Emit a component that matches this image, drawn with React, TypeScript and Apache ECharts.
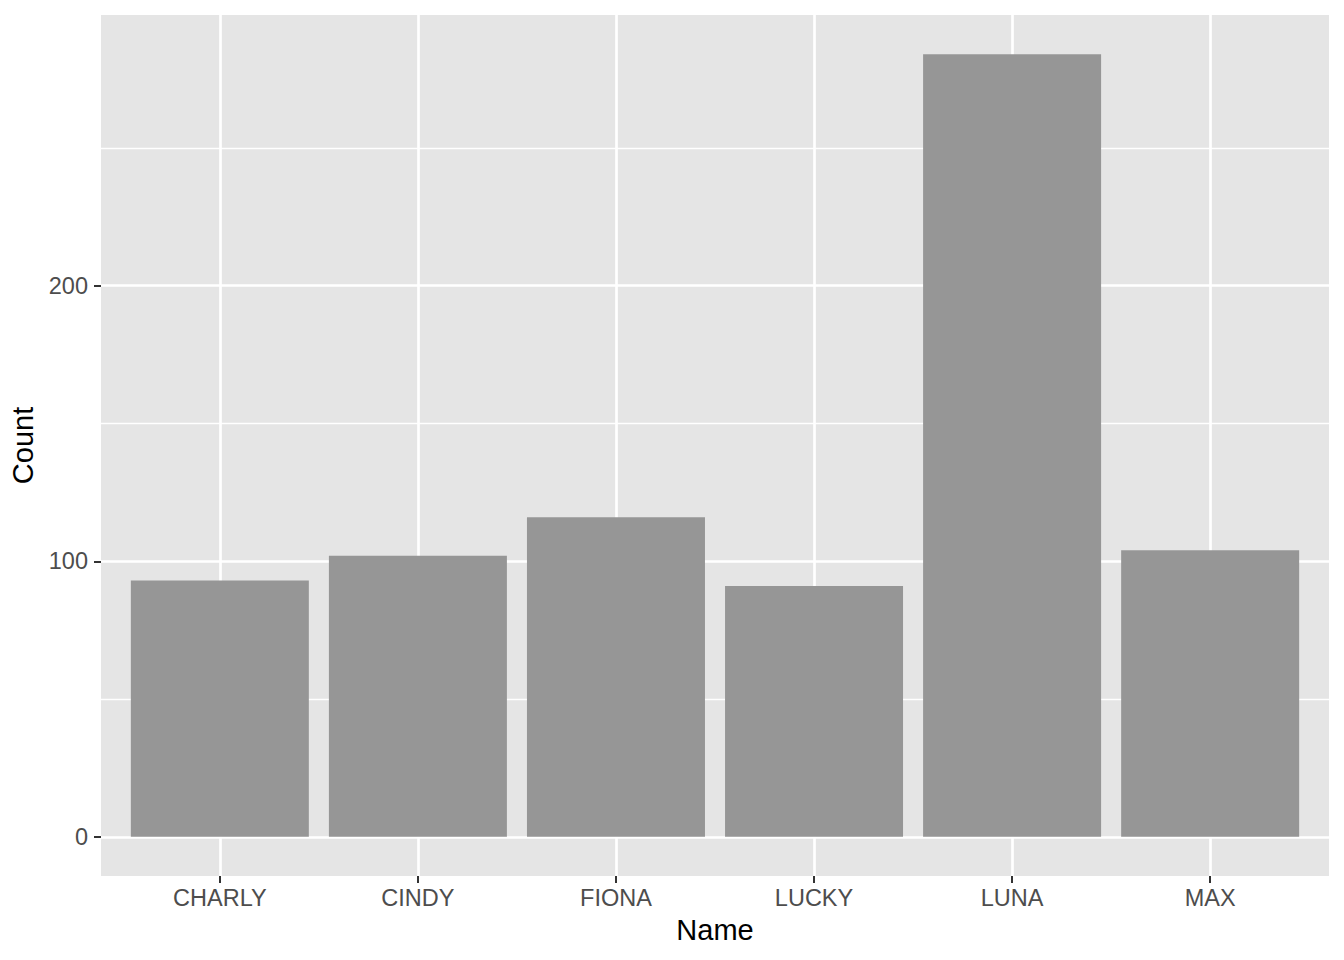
import React, { useEffect, useRef } from "react";
import * as echarts from "echarts";

const categories = ["CHARLY", "CINDY", "FIONA", "LUCKY", "LUNA", "MAX"];
const counts = [93, 102, 116, 91, 284, 104];
const yMajorTicks = [0, 100, 200];
const yMinorLines = [50, 150, 250];
const xPositions = [1, 2, 3, 4, 5, 6];

const FONT = "'Liberation Sans', Arial, Helvetica, sans-serif";

export default function App() {
  const ref = useRef<HTMLDivElement>(null);
  useEffect(() => {
    if (!ref.current) return;
    const chart = echarts.init(ref.current, undefined, { renderer: "svg" });
    const maxV = Math.max(...counts);
    const yMin = -0.05 * maxV;
    const yMax = maxV * 1.05;
    chart.setOption({
      animation: false,
      backgroundColor: "#ffffff",
      textStyle: { fontFamily: FONT },
      grid: {
        left: 101,
        right: 15,
        top: 15,
        bottom: 84,
        show: true,
        backgroundColor: "#E5E5E5",
        borderWidth: 0,
        containLabel: false,
        outerBoundsMode: "none",
      },
      xAxis: {
        type: "value",
        min: 0.4,
        max: 6.6,
        name: "Name",
        nameLocation: "middle",
        nameGap: 39,
        nameTextStyle: { fontSize: 29, color: "#000000", fontFamily: FONT },
        axisLine: { show: false, onZero: false },
        axisTick: {
          show: true,
          customValues: xPositions,
          length: 7,
          lineStyle: { color: "#333333", width: 2 },
        },
        axisLabel: {
          show: true,
          customValues: xPositions,
          formatter: (v: number) => categories[Math.round(v) - 1] ?? "",
          fontSize: 23.5,
          color: "#4D4D4D",
          margin: 10,
          fontFamily: FONT,
        },
        splitLine: { show: true, lineStyle: { color: "#ffffff", width: 2.7 } },
      },
      yAxis: [
        {
          type: "value",
          min: yMin,
          max: yMax,
          name: "Count",
          nameLocation: "middle",
          nameGap: 64,
          nameRotate: 90,
          nameTextStyle: { fontSize: 29, color: "#000000", fontFamily: FONT },
          axisLine: { show: false, onZero: false },
          axisTick: {
            show: true,
            customValues: yMajorTicks,
            length: 7,
            lineStyle: { color: "#333333", width: 2 },
          },
          axisLabel: {
            show: true,
            customValues: yMajorTicks,
            fontSize: 23.5,
            color: "#4D4D4D",
            margin: 13,
            fontFamily: FONT,
          },
          splitLine: { show: true, lineStyle: { color: "#ffffff", width: 2.7 } },
        },
        {
          type: "value",
          min: yMin,
          max: yMax,
          position: "left",
          axisLine: { show: false, onZero: false },
          axisTick: { show: false, customValues: yMinorLines },
          axisLabel: { show: false, customValues: yMinorLines },
          splitLine: { show: true, lineStyle: { color: "#ffffff", width: 1.4 } },
        },
      ],
      series: [
        {
          type: "bar",
          xAxisIndex: 0,
          yAxisIndex: 0,
          barWidth: 178,
          itemStyle: { color: "#969696" },
          data: counts.map((c, i) => [xPositions[i], c]),
          z: 5,
        },
      ],
    });
    return () => chart.dispose();
  }, []);
  return (
    <div
      ref={ref}
      style={{ position: "absolute", left: 0, top: 0, width: 1344, height: 960 }}
    />
  );
}
